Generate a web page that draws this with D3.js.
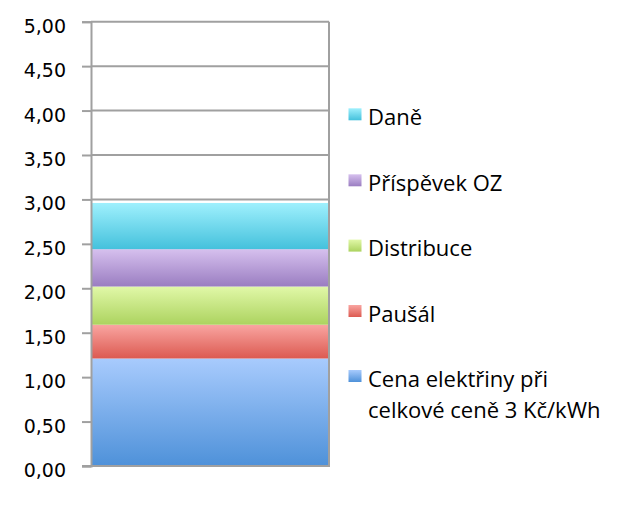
<!DOCTYPE html>
<html><head><meta charset="utf-8">
<script src="https://cdn.jsdelivr.net/npm/d3@7"></script>
<style>body{margin:0;background:#fff}</style>
</head><body>
<svg id="c" width="637" height="505"></svg>
<script>
const categories = ["Cena"];
const seriesNames = ["Cena elektřiny při celkové ceně 3 Kč/kWh", "Paušál", "Distribuce", "Příspěvek OZ", "Daně"];
const legendLines = [["Cena elektřiny při", "celkové ceně 3 Kč/kWh"], ["Paušál"], ["Distribuce"], ["Příspěvek OZ"], ["Daně"]];
const seriesValues = [1.21, 0.38, 0.43, 0.42, 0.52];
const yTicks = [0, 0.5, 1, 1.5, 2, 2.5, 3, 3.5, 4, 4.5, 5];
const colorsTop = ["#a8cbfd", "#f9a5a1", "#e1f8a8", "#d6c0ee", "#9ff0fd"];
const colorsBottom = ["#4e91d9", "#dc5a51", "#acd35f", "#9a7dc1", "#44c1dc"];

const svg = d3.select("#c");
const x = d3.scaleBand().domain(categories).range([91, 329]).padding(0);
const y = d3.scaleLinear().domain([0, 5]).range([466, 21.7]);

const defs = svg.append("defs");
seriesNames.forEach((s, i) => {
  const g = defs.append("linearGradient").attr("id", "g" + i).attr("x1", 0).attr("x2", 0).attr("y1", 0).attr("y2", 1);
  g.append("stop").attr("offset", "0%").attr("stop-color", colorsTop[i]);
  g.append("stop").attr("offset", "100%").attr("stop-color", colorsBottom[i]);
});

// stack
const row = {cat: categories[0]};
seriesNames.forEach((s, i) => row[s] = seriesValues[i]);
const stacked = d3.stack().keys(seriesNames)([row]);

// gridlines
svg.append("g").selectAll("line").data(yTicks.filter(t => t > 0)).join("line")
  .attr("x1", 91).attr("x2", 329)
  .attr("y1", d => y(d)).attr("y2", d => y(d))
  .attr("stroke", "#a0a0a0").attr("stroke-width", 2);

// bars
svg.append("g").selectAll("rect").data(stacked).join("rect")
  .attr("x", x(categories[0]))
  .attr("width", x.bandwidth())
  .attr("y", d => y(d[0][1]))
  .attr("height", d => y(d[0][0]) - y(d[0][1]))
  .attr("fill", (d, i) => `url(#g${i})`);

// right border
svg.append("line").attr("x1", 329).attr("x2", 329).attr("y1", y(5)).attr("y2", y(0))
  .attr("stroke", "#a0a0a0").attr("stroke-width", 2);
// bottom axis
svg.append("line").attr("x1", 82).attr("x2", 330).attr("y1", y(0)).attr("y2", y(0))
  .attr("stroke", "#a0a0a0").attr("stroke-width", 2);

// y axis
const fmt = v => d3.format(".2f")(v).replace(".", ",");
const ax = svg.append("g").attr("transform", "translate(91,0)")
  .call(d3.axisLeft(y).tickValues(yTicks).tickFormat(fmt).tickSize(9).tickPadding(16));
ax.select(".domain").attr("stroke", "#a0a0a0").attr("stroke-width", 2);
ax.selectAll(".tick line").attr("stroke", "#a0a0a0").attr("stroke-width", 2);
ax.selectAll(".tick text").attr("font-family", "DejaVu Sans").attr("font-size", "19px")
  .attr("fill", "#000").attr("dy", "0.55em");

// legend
const legendBaselines = [386.7, 321.7, 256.3, 191, 125];
const lg = svg.append("g");
seriesNames.forEach((s, i) => {
  const by = legendBaselines[i];
  lg.append("rect").attr("x", 348.5).attr("y", by - 16.7).attr("width", 13).attr("height", 12)
    .attr("fill", `url(#g${i})`);
  const t = lg.append("text").attr("x", 368).attr("y", by)
    .attr("font-family", "Open Sans").attr("font-size", "22px").attr("fill", "#000");
  legendLines[i].forEach((ln, j) => {
    t.append("tspan").attr("x", 368).attr("y", by + j * 31.7).text(ln);
  });
});
</script>
</body></html>
